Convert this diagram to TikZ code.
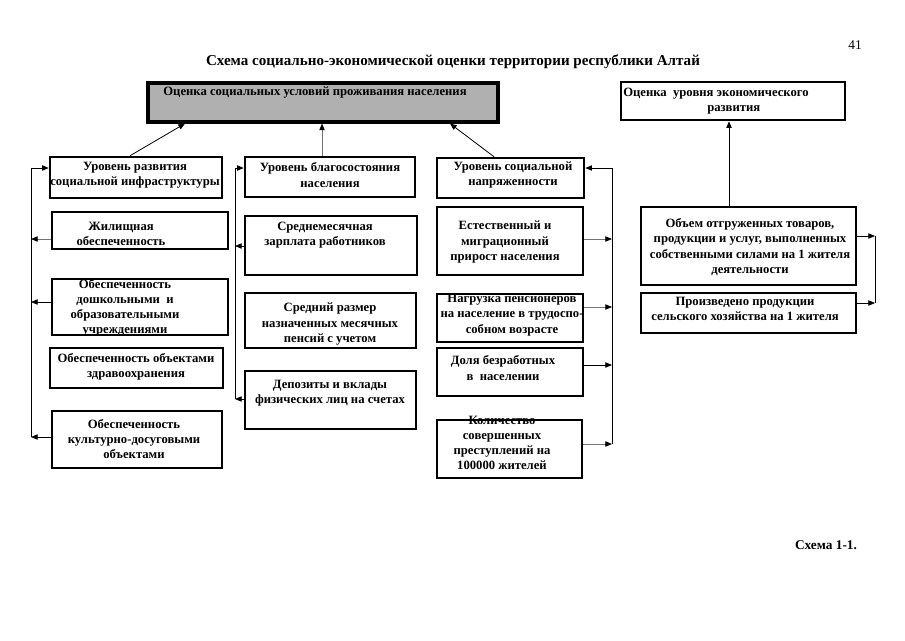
\documentclass[tikz,border=0pt]{standalone}
\usepackage{fontspec}
\setmainfont{Liberation Serif}
\usetikzlibrary{arrows.meta,fit,calc}
\begin{document}
\begin{tikzpicture}[x=0.75pt,y=-0.75pt,
  box/.style={draw, line width=1.9pt, inner sep=0pt},
  txt/.style={font=\bfseries\fontsize{9.5}{11.4}\selectfont, align=center, inner sep=0pt},
  arr/.style={-{Triangle[length=5pt,width=4pt]}, line width=0.6pt},
  garr/.style={draw=black!55, line width=0.6pt, -{Triangle[length=5pt,width=4pt,color=black]}},
  ln/.style={line width=0.6pt}]
\useasboundingbox (0,0) rectangle (905,640);
% title
\node[font=\fontsize{10}{12}\selectfont] (pg) at (855,45) {41};
\node[font=\bfseries\fontsize{11.3}{13}\selectfont] (title) at (453,62) {Схема социально-экономической оценки территории республики Алтай};
\node[font=\bfseries\fontsize{10}{12}\selectfont] (sch) at (826,545) {Схема 1-1.};
% top boxes
\node[box, fit={(148,83) (498,122)}, fill=gray!62, line width=2.3pt] (main) {};
\node[box, fit={(621,82) (845,120)}] (econ) {};
\node[txt] (tmain) at (315,93) {Оценка социальных условий проживания населения};
\node[txt, align=left, anchor=west] (tecon) at (623,101) {Оценка\ \ уровня экономического\\\hspace*{63pt}развития};
% left column
\node[box, fit={(50,157) (222,198)}] (b1) {};
\node[box, fit={(52,212) (228,249)}] (b2) {};
\node[box, fit={(52,279) (228,335)}] (b3) {};
\node[box, fit={(50,348) (223,388)}] (b4) {};
\node[box, fit={(52,411) (222,468)}] (b5) {};
\node[txt] (tb1) at (135,175) {Уровень развития\\социальной инфраструктуры};
\node[txt] (tb2) at (121,234) {Жилищная\\обеспеченность};
\node[txt] (tb3) at (125,308) {Обеспеченность\\дошкольными\ \ и\\образовательными\\учреждениями};
\node[txt] (tb4) at (136,367) {Обеспеченность объектами\\здравоохранения};
\node[txt] (tb5) at (134,439) {Обеспеченность\\культурно-досуговыми\\объектами};
% middle column
\node[box, fit={(245,157) (415,197)}] (m1) {};
\node[box, fit={(245,216) (417,275)}] (m2) {};
\node[box, fit={(245,293) (416,348)}] (m3) {};
\node[box, fit={(245,371) (416,429)}] (m4) {};
\node[txt] (tm1) at (330,175) {Уровень благосостояния\\населения};
\node[txt] (tm2) at (325,235) {Среднемесячная\\зарплата работников};
\node[txt] (tm3) at (330,324) {Средний размер\\назначенных месячных\\пенсий с учетом};
\node[txt] (tm4) at (330,393) {Депозиты и вклады\\физических лиц на счетах};
% third column
\node[box, fit={(437,158) (584,198)}] (r1) {};
\node[box, fit={(437,207) (583,275)}] (r2) {};
\node[box, fit={(437,294) (583,342)}] (r3) {};
\node[box, fit={(437,348) (583,396)}] (r4) {};
\node[box, fit={(437,420) (582,478)}] (r5) {};
\node[txt] (tr1) at (513,175) {Уровень социальной\\напряженности};
\node[txt] (tr2) at (505,242) {Естественный и\\миграционный\\прирост населения};
\node[txt] (tr3) at (512,315) {Нагрузка пенсионеров\\на население в трудоспо-\\собном возрасте};
\node[txt] (tr4) at (503,368) {Доля безработных\\в\ \ населении};
\node[txt] (tr5) at (502,443) {Количество\\совершенных\\преступлений на\\100000 жителей};
% economic column
\node[box, fit={(641,207) (856,285)}] (e1) {};
\node[box, fit={(641,293) (856,333)}] (e2) {};
\node[txt] (te1) at (750,247) {Объем отгруженных товаров,\\продукции и услуг, выполненных\\собственными силами на 1 жителя\\деятельности};
\node[txt] (te2) at (745,309) {Произведено продукции\\сельского хозяйства на 1 жителя};
% arrows to top boxes
\draw[arr] (b1.north -| 130,0) -- (main.south -| 185,0);
\draw[garr] (m1.north -| 322,0) -- (main.south -| 322,0);
\draw[arr] (r1.north -| 494,0) -- (main.south -| 450,0);
\draw[arr] (e1.north -| 729,0) -- (econ.south -| 729,0);
% left collector
\coordinate (LT) at (31,168);
\coordinate (L2) at (31,239);
\coordinate (L3) at (31,302);
\coordinate (LB) at (31,437);
\draw[arr] (LB) -- (LT) -- (b1.west |- LT);
\draw[garr] (b2.west |- L2) -- (L2);
\draw[arr] (b3.west |- L3) -- (L3);
\draw[arr] (b5.west |- LB) -- (LB);
% middle collector
\coordinate (MT) at (235,168);
\coordinate (M2) at (235,246);
\coordinate (MB) at (235,399);
\draw[arr] (MB) -- (MT) -- (m1.west |- MT);
\draw[arr] (m2.west |- M2) -- (M2);
\draw[arr] (m4.west |- MB) -- (MB);
% right collector
\coordinate (RT) at (612,168);
\coordinate (R2) at (612,239);
\coordinate (R3) at (612,307);
\coordinate (R4) at (612,365);
\coordinate (RB) at (612,444);
\draw[arr] (RB) -- (RT) -- (r1.east |- RT);
\draw[garr] (r2.east |- R2) -- (R2);
\draw[garr] (r3.east |- R3) -- (R3);
\draw[arr] (r4.east |- R4) -- (R4);
\draw[garr] (r5.east |- RB) -- (RB);
% far right
\coordinate (ET) at (875,236);
\coordinate (EB) at (875,303);
\draw[ln] (ET) -- (EB);
\draw[arr] (e1.east |- ET) -- (ET);
\draw[arr] (e2.east |- EB) -- (EB);
\end{tikzpicture}
\end{document}
